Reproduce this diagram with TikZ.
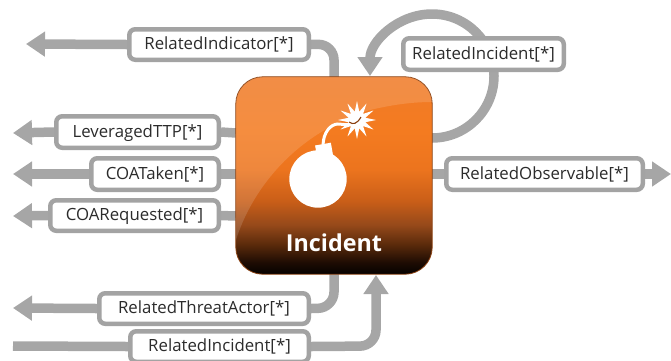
\documentclass[tikz,border=0pt]{standalone}
\usepackage{fontspec}
\setmainfont{Open Sans}
\usetikzlibrary{arrows.meta,shapes.geometric,calc,backgrounds}
\definecolor{linegray}{HTML}{A6A6A6}
\definecolor{bordergray}{HTML}{A3A3A3}
\definecolor{txt}{HTML}{2B2B2B}
\definecolor{bc0}{HTML}{050100}
\definecolor{bc1}{HTML}{1E0C03}
\definecolor{bc2}{HTML}{5A2A0B}
\definecolor{bc3}{HTML}{96491A}
\definecolor{bc4}{HTML}{C95E18}
\definecolor{bc5}{HTML}{EC741E}
\definecolor{bc6}{HTML}{F47B20}
\definecolor{bc7}{HTML}{F07B28}
\definecolor{edgeb}{HTML}{8A4010}
\pgfdeclareverticalshading{incshade}{100bp}{
 color(0bp)=(bc0);
 color(25bp)=(bc0);
 color(28bp)=(bc1);
 color(32.5bp)=(bc2);
 color(37.5bp)=(bc3);
 color(43.5bp)=(bc4);
 color(51.5bp)=(bc5);
 color(61bp)=(bc6);
 color(75bp)=(bc7);
 color(100bp)=(bc7)}
\tikzset{
 x=1pt,y=-1pt,
 conn/.style={draw=linegray,line width=9.5pt},
 arr/.style={conn,-{Triangle[width=24pt,length=19pt]}},
 lab/.style={draw=bordergray,line width=4.5pt,rounded corners=6pt,fill=white,text=txt,
   font=\fontsize{16.8}{18}\selectfont,inner sep=0pt,anchor=center,text height=13pt,text depth=2.5pt},
}
\newcommand{\lbl}[6]{\node[lab,minimum width=#3-#2-4.5,minimum height=#5-#4-4.5] (#1) at ({(#2+#3)/2},{(#4+#5)/2}) {#6};}
\begin{document}
\begin{tikzpicture}
\useasboundingbox (0,0) rectangle (671,360);
\node[minimum width=196pt,minimum height=197pt,inner sep=0pt] (inc) at (334,175.5) {};
% labels
\lbl{b1}{127}{311}{27}{62}{RelatedIndicator[*]}
\lbl{b2}{54}{221}{114}{150}{LeveragedTTP[*]}
\lbl{b3}{89}{221}{156}{192}{COATaken[*]}
\lbl{b4}{48}{221}{198}{233}{COARequested[*]}
\lbl{b5}{97}{311}{291}{326}{RelatedThreatActor[*]}
\lbl{b6}{128}{311}{329}{364}{RelatedIncident[*]}
\lbl{b7}{401}{566}{36}{72}{RelatedIncident[*]}
\lbl{b8}{444}{645}{156}{192}{RelatedObservable[*]}
\coordinate (e1) at (26,44);
\coordinate (e2) at (13,133);
\coordinate (e3) at (13,174);
\coordinate (e4) at (13,216);
\coordinate (e5) at (13,308);
\coordinate (e6) at (13,346);
\coordinate (e7) at (671,174);
\coordinate (e8) at (376,275);
\coordinate (c1) at (334,44);
\coordinate (c5) at (334,308);
\coordinate (c6) at (376,346);
\coordinate (loopS) at (432,138);
\begin{pgfonlayer}{background}
\draw[arr] (b1.west) -- (e1);
\draw[conn,rounded corners=16pt] (b1.east) -- (c1) -- (inc.north);
\draw[arr] (b2.west) -- (e2);
\draw[conn] (b2.east) -- (inc.west |- e2);
\draw[arr] (b3.west) -- (e3);
\draw[conn] (b3.east) -- (inc.west |- e3);
\draw[arr] (b4.west) -- (e4);
\draw[conn] (b4.east) -- (inc.west |- e4);
\draw[arr] (b5.west) -- (e5);
\draw[conn,rounded corners=16pt] (b5.east) -- (c5) -- (inc.south);
\draw[conn] (b6.west) -- (e6);
\draw[arr,rounded corners=16pt] (b6.east) -- (c6) -- (e8);
\draw[conn] (inc.east |- e3) -- (b8.west);
\draw[arr] (b8.east) -- (e7);
\draw[arr] (loopS) arc[start angle=90,end angle=-180,radius=62];
\end{pgfonlayer}
% incident
\path[rounded corners=27pt,shading=incshade,draw=edgeb,line width=.8pt] (inc.north west) rectangle (inc.south east);
\begin{scope}
\clip[rounded corners=27pt] (inc.north west) rectangle (inc.south east);
\fill[white,opacity=.14] (236,77) -- (236,240) .. controls (250,195) and (290,135) .. (370,110) .. controls (395,104) and (415,102) .. (432,102) -- (432,77) -- cycle;
\end{scope}
% bomb
\fill[white] (318,179) circle[radius=28.7];
\fill[white,rotate around={10:(324,150)}] (316,144) rectangle (332,158);
\draw[white,line width=3pt] (323,146) .. controls (323,132) and (331,124) .. (338,124) .. controls (345,124) and (350,127) .. (356,121);
\node[star,star points=12,star point ratio=2.2,fill=white,minimum size=38pt,inner sep=0pt] (spark) at (357,120) {};
\draw[edgeb,line width=1.1pt] (349,122) .. controls (353,125) and (357,124) .. (361,117);
\node[text=white,font=\bfseries\fontsize{23.3}{26}\selectfont,inner sep=0pt] (inclabel) at (334,243) {Incident};
\end{tikzpicture}
\end{document}
